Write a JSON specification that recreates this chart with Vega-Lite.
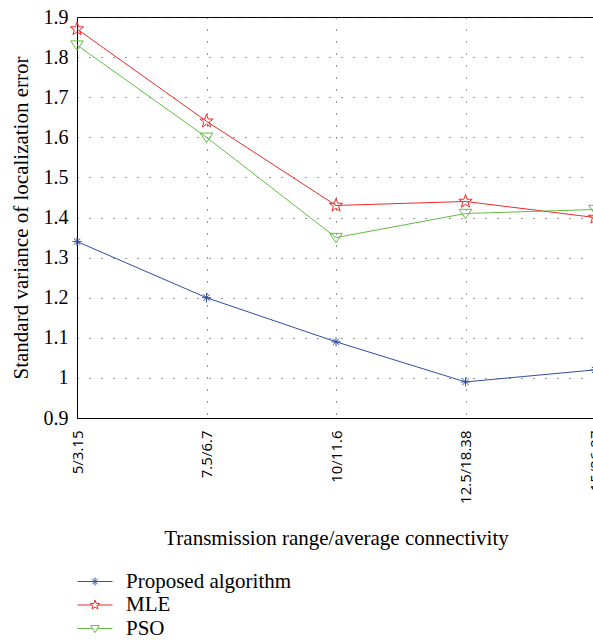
{
  "$schema": "https://vega.github.io/schema/vega-lite/v6.json",
  "width": 518,
  "height": 401,
  "autosize": {"type": "none"},
  "padding": {"left": 77, "top": 17, "right": 0, "bottom": 226},
  "background": "white",
  "config": {
    "view": {"stroke": "black", "strokeWidth": 1},
    "axis": {"domainColor": "black", "grid": true, "gridColor": "#333333", "gridDash": [1, 11], "gridWidth": 1, "ticks": false},
    "legend": {
      "title": null, "orient": "none", "legendX": 7.5, "legendY": 554,
      "padding": 0, "symbolSize": 400, "rowPadding": 1.5, "labelOffset": 20.5, "labelLimit": 400,
      "labelFont": "Liberation Serif", "labelFontSize": 21, "labelColor": "black",
      "symbolStrokeWidth": 1, "symbolFillColor": "transparent"
    }
  },
  "data": {
    "values": [
      {"x": "5/3.15", "o": 1, "series": "Proposed algorithm", "v": 1.34},
      {"x": "7.5/6.7", "o": 2, "series": "Proposed algorithm", "v": 1.20},
      {"x": "10/11.6", "o": 3, "series": "Proposed algorithm", "v": 1.09},
      {"x": "12.5/18.38", "o": 4, "series": "Proposed algorithm", "v": 0.99},
      {"x": "15/26.27", "o": 5, "series": "Proposed algorithm", "v": 1.02},
      {"x": "5/3.15", "o": 1, "series": "MLE", "v": 1.87},
      {"x": "7.5/6.7", "o": 2, "series": "MLE", "v": 1.64},
      {"x": "10/11.6", "o": 3, "series": "MLE", "v": 1.43},
      {"x": "12.5/18.38", "o": 4, "series": "MLE", "v": 1.44},
      {"x": "15/26.27", "o": 5, "series": "MLE", "v": 1.40},
      {"x": "5/3.15", "o": 1, "series": "PSO", "v": 1.83},
      {"x": "7.5/6.7", "o": 2, "series": "PSO", "v": 1.60},
      {"x": "10/11.6", "o": 3, "series": "PSO", "v": 1.35},
      {"x": "12.5/18.38", "o": 4, "series": "PSO", "v": 1.41},
      {"x": "15/26.27", "o": 5, "series": "PSO", "v": 1.42}
    ]
  },
  "encoding": {
    "x": {
      "field": "x", "type": "ordinal",
      "sort": ["5/3.15", "7.5/6.7", "10/11.6", "12.5/18.38", "15/26.27"],
      "scale": {"type": "point", "padding": 0},
      "axis": {
        "title": "Transmission range/average connectivity",
        "titleFont": "Liberation Serif", "titleFontSize": 21, "titleFontWeight": "normal", "titleColor": "black",
        "titlePadding": 24,
        "labelAngle": -90, "labelFont": "Open Sans", "labelFontSize": 15, "labelColor": "black",
        "labelPadding": 12
      }
    },
    "y": {
      "field": "v", "type": "quantitative",
      "scale": {"domain": [0.9, 1.9], "nice": false, "zero": false},
      "axis": {
        "title": "Standard variance of localization error",
        "titleFont": "Liberation Serif", "titleFontSize": 21, "titleFontWeight": "normal", "titleColor": "black",
        "titlePadding": 12,
        "values": [0.9, 1, 1.1, 1.2, 1.3, 1.4, 1.5, 1.6, 1.7, 1.8, 1.9],
        "labelExpr": "datum.value == 1 ? '1' : format(datum.value, '.1f')",
        "labelFont": "Liberation Serif", "labelFontSize": 20, "labelColor": "black",
        "labelPadding": 9
      }
    },
    "color": {
      "field": "series", "type": "nominal",
      "scale": {"domain": ["Proposed algorithm", "MLE", "PSO"], "range": ["#2f4fa6", "#ee2a2a", "#62bd44"]}
    }
  },
  "layer": [
    {
      "mark": {"type": "line", "strokeWidth": 1},
      "encoding": {
        "order": {"field": "o", "type": "quantitative"}
      }
    },
    {
      "transform": [{"filter": "datum.series == 'Proposed algorithm'"}],
      "mark": {"type": "point", "filled": false, "strokeWidth": 1, "opacity": 1, "size": 196,
               "shape": "M-0.65,0L0.65,0M0,-0.65L0,0.65M-0.46,-0.46L0.46,0.46M-0.46,0.46L0.46,-0.46"}
    },
    {
      "transform": [{"filter": "datum.series == 'MLE'"}],
      "mark": {"type": "point", "filled": false, "strokeWidth": 1, "opacity": 1, "size": 196,
               "shape": "M0,-1L0.235,-0.324L0.951,-0.309L0.38,0.124L0.588,0.809L0,0.4L-0.588,0.809L-0.38,0.124L-0.951,-0.309L-0.235,-0.324Z"}
    },
    {
      "transform": [{"filter": "datum.series == 'PSO'"}],
      "mark": {"type": "point", "filled": false, "strokeWidth": 1, "opacity": 1, "size": 196,
               "shape": "M-0.9,-0.6L0.9,-0.6L0,0.75Z"}
    },
    {
      "transform": [{"filter": "false"}],
      "mark": {"type": "point", "filled": false, "strokeWidth": 1, "opacity": 1},
      "encoding": {
        "shape": {
          "field": "series", "type": "nominal",
          "scale": {"domain": ["Proposed algorithm", "MLE", "PSO"], "range": [
            "M-1.75,0L1.75,0M-0.4,0L0.4,0M0,-0.4L0,0.4M-0.28,-0.28L0.28,0.28M-0.28,0.28L0.28,-0.28",
            "M-1.75,0L-0.3,0M0.3,0L1.75,0M0,-0.5L0.118,-0.162L0.476,-0.155L0.19,0.062L0.294,0.405L0,0.2L-0.294,0.405L-0.19,0.062L-0.476,-0.155L-0.118,-0.162Z",
            "M-1.75,0L-0.3,0M0.3,0L1.75,0M-0.42,-0.3L0.42,-0.3L0,0.42Z"
          ]}
        }
      }
    }
  ]
}
